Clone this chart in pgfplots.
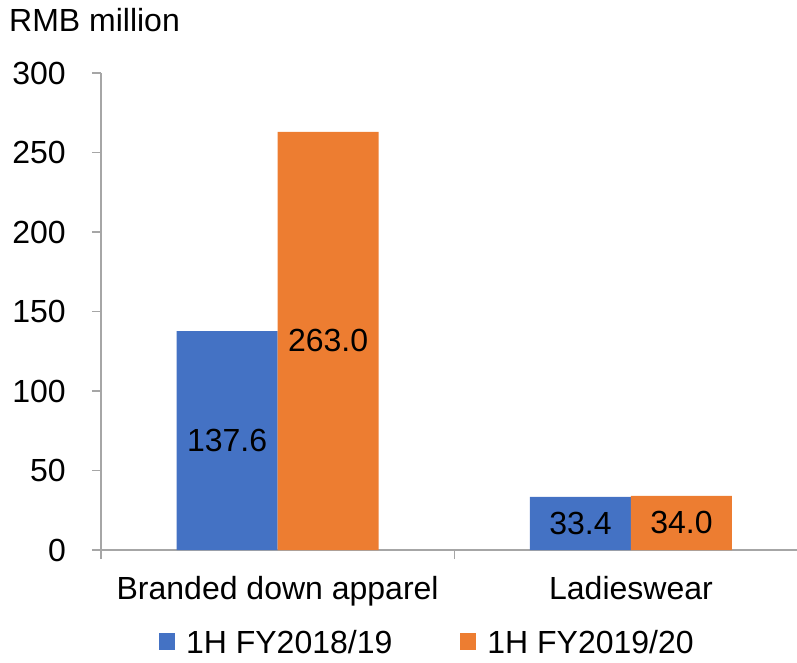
\documentclass[border=0pt]{standalone}
\usepackage{pgfplots}
\pgfplotsset{compat=1.18}
\usepackage{fontspec}
\setmainfont{Liberation Sans}
\definecolor{cblue}{HTML}{4472C4}
\definecolor{corange}{HTML}{ED7D31}
\definecolor{axgray}{HTML}{A6A6A6}
\newcommand{\bigfont}{\fontsize{32}{38}\selectfont}
\begin{document}
\bigfont
\begin{tikzpicture}
\useasboundingbox (0,0) rectangle (797pt,662pt);
\node[anchor=base west, inner sep=0pt] at (9pt,630pt) {RMB million};
\begin{axis}[
  at={(101pt,112pt)}, anchor=south west,
  scale only axis,
  width=696pt, height=477pt,
  ybar=0pt, bar width=101pt,
  xmin=-0.5, xmax=1.47,
  ymin=0, ymax=300,
  ytick={0,50,100,150,200,250,300},
  xtick={0,1},
  xticklabels={Branded down apparel, Ladieswear},
  minor xtick={-0.5,0.5,1.5},
  axis x line*=bottom, axis y line*=left,
  tick align=outside,
  major tick length=9pt, minor tick length=9pt,
  xtick style={draw=none},
  minor x tick style={draw=axgray, line width=1.5pt},
  ytick style={draw=axgray, line width=1.5pt},
  axis line style={draw=axgray, line width=1.5pt},
  /pgf/number format/assume math mode=true,
  tick label style={font=\bigfont},
  yticklabel style={anchor=east, inner sep=0pt, xshift=-26pt},
  xticklabel style={anchor=base, inner sep=0pt, yshift=-40pt},
  nodes near coords={\pgfmathprintnumber[fixed,fixed zerofill,precision=1]{\pgfplotspointmeta}},
  visualization depends on=y \as \rawy,
  every node near coord/.append style={anchor=center, font=\bigfont, text=black,
    shift={(axis direction cs:0,-\rawy/2)}},
  legend columns=2,
  legend style={at={(0.469,-0.198)}, anchor=center, draw=none, font=\bigfont,
    /tikz/every odd column/.append style={column sep=9pt},
    /tikz/every even column/.append style={column sep=66pt}},
  legend image code/.code={\fill[#1] (0pt,-6pt) rectangle (16pt,11pt);},
]
\addplot[fill=cblue, draw=none] coordinates {(0,137.6) (1,33.4)};
\addplot[fill=corange, draw=none] coordinates {(0,263.0) (1,34.0)};
\legend{1H FY2018/19, 1H FY2019/20}
\end{axis}
\end{tikzpicture}
\end{document}
